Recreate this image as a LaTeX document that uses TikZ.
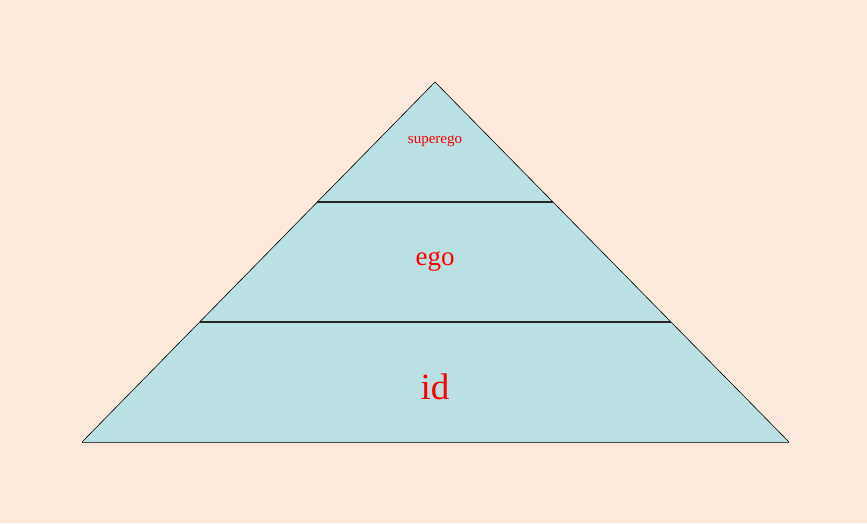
\documentclass[tikz,border=0pt]{standalone}
\usepackage{fontspec}
\setmainfont{Liberation Serif}
\definecolor{peach}{RGB}{252, 233, 219}
\definecolor{layerblue}{RGB}{185, 224, 227}
\definecolor{labelred}{RGB}{255, 0, 0}
\usetikzlibrary{calc}

\tikzset{
  layertext/.style={text=labelred, inner sep=0pt, anchor=center},
  divider/.style={line width=1.5pt, black!85}
}

\begin{document}
\begin{tikzpicture}[x=1pt, y=-1pt]
  % background
  \fill[peach] (0, 0) rectangle (867, 523);
  \useasboundingbox (0, 0) rectangle (867, 523);
  % pyramid corners
  \coordinate (apex) at (435, 82);
  \coordinate (baseL) at (82, 442);
  \coordinate (baseR) at (789, 442);
  \fill[layerblue] (apex) -- (baseR) -- (baseL) -- cycle;
  \draw[black!70, line width=0.7pt] (baseL) -- (baseR);
  \draw[line width=0.6pt] (baseL) -- (apex) -- (baseR);
  % layer borders
  \coordinate (topL) at ($(apex)!1/3!(baseL)$);
  \coordinate (topR) at ($(apex)!1/3!(baseR)$);
  \coordinate (midL) at ($(apex)!2/3!(baseL)$);
  \coordinate (midR) at ($(apex)!2/3!(baseR)$);
  \draw[divider] (topL) -- (topR);
  \draw[divider] (midL) -- (midR);
  % labels
  \node[layertext, font=\fontsize{15}{15}\selectfont] (superego) at (435, 141) {superego};
  \node[layertext, font=\fontsize{27}{27}\selectfont] (ego) at (435, 261) {ego};
  \node[layertext, font=\fontsize{37}{37}\selectfont] (id) at (435, 387) {id};
\end{tikzpicture}
\end{document}
